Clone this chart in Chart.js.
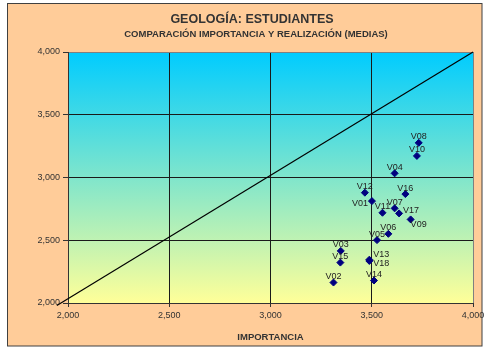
<!DOCTYPE html>
<html lang="es">
<head>
<meta charset="UTF-8">
<title>Geología: estudiantes</title>
<script src="https://cdn.jsdelivr.net/npm/chart.js"></script>
<style>
    html, body { margin: 0; padding: 0; background: #ffffff; }
    #wrap { width: 490px; height: 349px; }
</style>
</head>
<body>
<div id="wrap"><canvas id="mediasChart" width="490" height="349"></canvas></div>
<script>
// Medias por variable: importancia (eje X) frente a realización (eje Y)
const variables = ['V01', 'V02', 'V03', 'V04', 'V05', 'V06', 'V07', 'V08', 'V09',
                   'V10', 'V11', 'V12', 'V13', 'V14', 'V15', 'V16', 'V17', 'V18'];
const importancia = [3.501, 3.311, 3.347, 3.613, 3.526, 3.582, 3.613, 3.732, 3.692,
                     3.723, 3.553, 3.466, 3.488, 3.511, 3.345, 3.666, 3.635, 3.488];
const realizacion = [2.812, 2.163, 2.415, 3.033, 2.501, 2.551, 2.754, 3.276, 2.666,
                     3.172, 2.719, 2.879, 2.345, 2.179, 2.322, 2.868, 2.714, 2.335];

// línea de referencia importancia = realización
const refX = [1.945, 4.0];
const refY = [1.98, 4.0];

const axisTicks = [2.0, 2.5, 3.0, 3.5, 4.0];

// etiquetas que no van encima del punto
const labelSide = { V01: 'left', V09: 'belowRight', V13: 'rightUp', V17: 'right', V18: 'rightDown' };

const fmt = v => v.toFixed(3).replace('.', ',');

const frame = {
    id: 'frame',
    beforeDraw(chart) {
        const ctx = chart.ctx;
        const a = chart.chartArea;
        ctx.save();
        ctx.fillStyle = '#ffffff';
        ctx.fillRect(0, 0, chart.width, chart.height);
        ctx.fillStyle = '#FFCC99';
        ctx.fillRect(7.5, 3.5, 474.5, 342.5);
        ctx.strokeStyle = '#404040';
        ctx.lineWidth = 1;
        ctx.strokeRect(7.5, 3.5, 474.5, 342.5);

        const g = ctx.createLinearGradient(0, a.top, 0, a.bottom);
        g.addColorStop(0, '#00CCFF');
        g.addColorStop(1, '#FFFF99');
        ctx.fillStyle = g;
        ctx.fillRect(a.left, a.top, a.right - a.left, a.bottom - a.top);

        ctx.fillStyle = '#333333';
        ctx.textAlign = 'center';
        ctx.textBaseline = 'middle';
        ctx.font = 'bold 12.5px Arial';
        ctx.fillText('GEOLOGÍA: ESTUDIANTES', 252, 20);
        ctx.font = 'bold 9.5px Arial';
        ctx.fillText('COMPARACIÓN IMPORTANCIA Y REALIZACIÓN (MEDIAS)', 256, 34);
        ctx.restore();
    },
    afterDatasetsDraw(chart) {
        const ctx = chart.ctx;
        const meta = chart.getDatasetMeta(1);
        ctx.save();
        ctx.font = '9px Arial';
        ctx.fillStyle = '#222222';
        ctx.textBaseline = 'middle';
        meta.data.forEach((pt, i) => {
            const name = variables[i];
            const side = labelSide[name] || 'top';
            let x = pt.x, y = pt.y;
            if (side === 'top') { ctx.textAlign = 'center'; y -= 6; }
            else if (side === 'left') { ctx.textAlign = 'right'; x -= 4; y += 2; }
            else if (side === 'right') { ctx.textAlign = 'left'; x += 4; y -= 3; }
            else if (side === 'rightUp') { ctx.textAlign = 'left'; x += 4; y -= 5; }
            else if (side === 'rightDown') { ctx.textAlign = 'left'; x += 4; y += 3; }
            else if (side === 'belowRight') { ctx.textAlign = 'center'; x += 8; y += 5; }
            ctx.fillText(name, x, y);
        });
        ctx.restore();
    }
};

const tickFont = { family: 'Arial', size: 9 };

new Chart(document.getElementById('mediasChart'), {
    type: 'scatter',
    data: {
        datasets: [{
            type: 'line',
            data: refX.map((x, i) => ({ x: x, y: refY[i] })),
            borderColor: '#000000',
            borderWidth: 1.2,
            pointRadius: 0,
            fill: false,
            clip: false
        }, {
            data: importancia.map((x, i) => ({ x: x, y: realizacion[i] })),
            pointStyle: 'rectRot',
            pointRadius: 3.5,
            backgroundColor: '#000080',
            borderColor: '#000080',
            borderWidth: 1
        }]
    },
    options: {
        responsive: false,
        animation: false,
        layout: { padding: { top: 52, left: 8, right: 17, bottom: 0 } },
        plugins: { legend: { display: false }, tooltip: { enabled: false } },
        scales: {
            x: {
                type: 'linear',
                min: 2, max: 4,
                afterBuildTicks: s => { s.ticks = axisTicks.map(v => ({ value: v })); },
                afterFit: s => { s.height = 46; },
                ticks: { callback: fmt, font: tickFont, color: '#333333', padding: 3, maxRotation: 0 },
                grid: {
                    color: c => (c.tick && c.tick.value === 4 ? '#808080' : '#1a1a1a'),
                    tickColor: '#333333',
                    tickLength: 4
                },
                border: { color: '#333333' },
                title: {
                    display: true,
                    text: 'IMPORTANCIA',
                    color: '#333333',
                    font: { family: 'Arial', size: 9.5, weight: 'bold' },
                    padding: { top: 4, bottom: 6 }
                }
            },
            y: {
                type: 'linear',
                min: 2, max: 4,
                afterBuildTicks: s => { s.ticks = axisTicks.map(v => ({ value: v })); },
                afterFit: s => { s.width = 60; },
                ticks: { callback: fmt, font: tickFont, color: '#333333', padding: 3 },
                grid: {
                    color: c => (c.tick && c.tick.value === 4 ? '#808080' : '#1a1a1a'),
                    tickColor: '#333333',
                    tickLength: 5
                },
                border: { color: '#333333' }
            }
        }
    },
    plugins: [frame]
});
</script>
</body>
</html>
